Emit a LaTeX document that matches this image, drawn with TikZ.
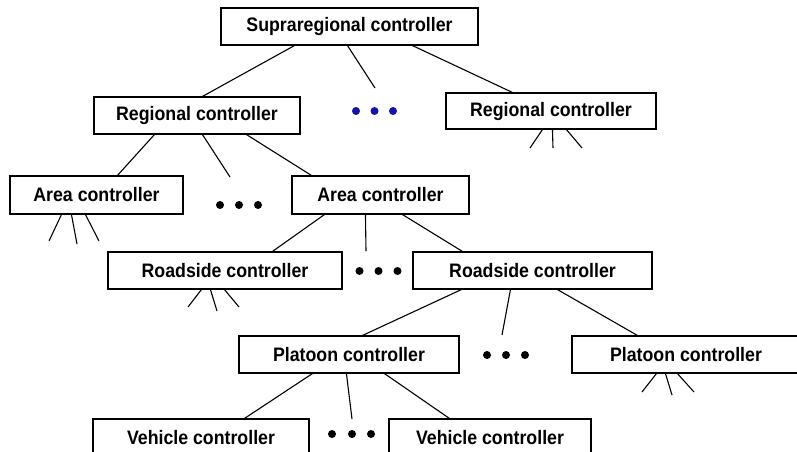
\documentclass[tikz,border=0pt]{standalone}
\usepackage{fontspec}
\setmainfont[FakeStretch=0.91]{Liberation Sans}
\definecolor{dotblue}{RGB}{20,20,170}
\begin{document}
\begin{tikzpicture}[x=1pt,y=-1pt,
  ctrl/.style={draw=black,line width=1.1pt,fill=white,inner sep=0pt,
    font=\fontsize{19.5}{21}\selectfont\bfseries},
  link/.style={line width=1.1pt,black},
  bdot/.style={fill=black},
  udot/.style={fill=dotblue}]
\useasboundingbox (0,0) rectangle (797,451);
% boxes
\node[ctrl,minimum width=257pt,minimum height=37pt] (supra) at (349.5,26.5) {Supraregional controller};
\node[ctrl,minimum width=206pt,minimum height=37pt] (regL) at (197,115.5) {Regional controller};
\node[ctrl,minimum width=210pt,minimum height=36pt] (regR) at (551,111) {Regional controller};
\node[ctrl,minimum width=173pt,minimum height=38pt] (areaL) at (96.5,195) {Area controller};
\node[ctrl,minimum width=177pt,minimum height=38pt] (areaR) at (380.5,195) {Area controller};
\node[ctrl,minimum width=234pt,minimum height=37pt] (roadL) at (225,270.5) {Roadside controller};
\node[ctrl,minimum width=239pt,minimum height=37pt] (roadR) at (532.5,270.5) {Roadside controller};
\node[ctrl,minimum width=220pt,minimum height=37pt] (platL) at (349,354.5) {Platoon controller};
\node[ctrl,minimum width=228pt,minimum height=37pt] (platR) at (686,354.5) {Platoon controller};
\node[ctrl,minimum width=216pt,minimum height=37pt] (vehL) at (201,437.5) {Vehicle controller};
\node[ctrl,minimum width=202pt,minimum height=37pt] (vehR) at (490,437.5) {Vehicle controller};
% free ends
\coordinate (e1) at (375,88);
\coordinate (r1) at (530,148); \coordinate (r2) at (553,148); \coordinate (r3) at (582,148);
\coordinate (e2) at (230,177);
\coordinate (a1) at (49,241); \coordinate (a2) at (77,244); \coordinate (a3) at (99,241);
\coordinate (e3) at (366,251);
\coordinate (s1) at (188,307); \coordinate (s2) at (217,311); \coordinate (s3) at (239,307);
\coordinate (e4) at (502,335);
\coordinate (p1) at (642,392); \coordinate (p2) at (672,395); \coordinate (p3) at (694,392);
\coordinate (e5) at (352,419);
% connectors
\draw[link] ([xshift=74pt]supra.south west) -- ([xshift=109pt]regL.north west);
\draw[link] ([xshift=127pt]supra.south west) -- (e1);
\draw[link] ([xshift=192pt]supra.south west) -- ([xshift=67pt]regR.north west);
\draw[link] ([xshift=97pt]regR.south west) -- (r1);
\draw[link] ([xshift=107pt]regR.south west) -- (r2);
\draw[link] ([xshift=121pt]regR.south west) -- (r3);
\draw[link] ([xshift=61pt]regL.south west) -- ([xshift=108pt]areaL.north west);
\draw[link] ([xshift=109pt]regL.south west) -- (e2);
\draw[link] ([xshift=153pt]regL.south west) -- ([xshift=20pt]areaR.north west);
\draw[link] ([xshift=52pt]areaL.south west) -- (a1);
\draw[link] ([xshift=62pt]areaL.south west) -- (a2);
\draw[link] ([xshift=76pt]areaL.south west) -- (a3);
\draw[link] ([xshift=33pt]areaR.south west) -- ([xshift=165pt]roadL.north west);
\draw[link] ([xshift=74pt]areaR.south west) -- (e3);
\draw[link] ([xshift=111pt]areaR.south west) -- ([xshift=50pt]roadR.north west);
\draw[link] ([xshift=94pt]roadL.south west) -- (s1);
\draw[link] ([xshift=103pt]roadL.south west) -- (s2);
\draw[link] ([xshift=117pt]roadL.south west) -- (s3);
\draw[link] ([xshift=49pt]roadR.south west) -- ([xshift=124pt]platL.north west);
\draw[link] ([xshift=98pt]roadR.south west) -- (e4);
\draw[link] ([xshift=145pt]roadR.south west) -- ([xshift=66pt]platR.north west);
\draw[link] ([xshift=85pt]platR.south west) -- (p1);
\draw[link] ([xshift=94pt]platR.south west) -- (p2);
\draw[link] ([xshift=106pt]platR.south west) -- (p3);
\draw[link] ([xshift=74pt]platL.south west) -- ([xshift=152pt]vehL.north west);
\draw[link] ([xshift=108pt]platL.south west) -- (e5);
\draw[link] ([xshift=146pt]platL.south west) -- ([xshift=61pt]vehR.north west);
% dots
\foreach \x in {356,374.5,393} \fill[udot] (\x,111) circle (4pt);
\foreach \x in {220,239,258} \fill[bdot] (\x,205) circle (4pt);
\foreach \x in {359.5,378.5,397.5} \fill[bdot] (\x,271) circle (4pt);
\foreach \x in {487,506,525} \fill[bdot] (\x,355) circle (4pt);
\foreach \x in {332,352,371} \fill[bdot] (\x,434) circle (4pt);
\end{tikzpicture}
\end{document}
